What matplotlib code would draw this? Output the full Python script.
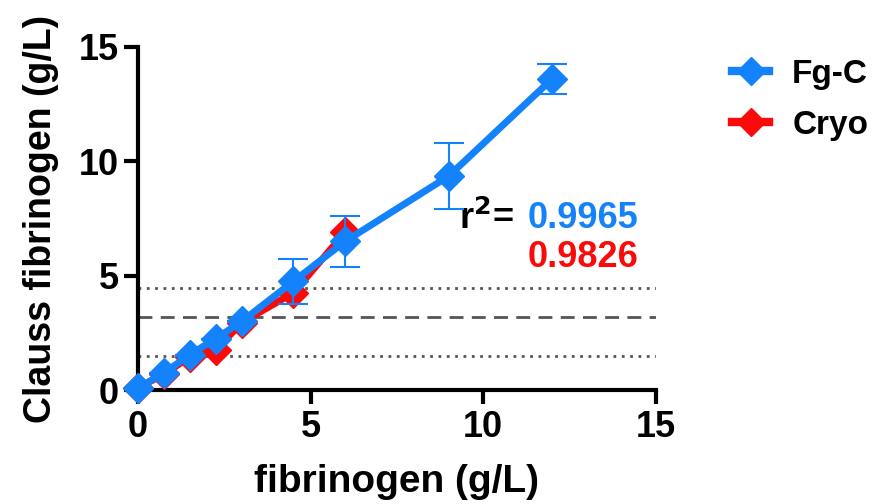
import matplotlib.pyplot as plt
from matplotlib.lines import Line2D

# data
x_vals = [0, 0.75, 1.5, 2.25, 3, 4.5, 6, 9, 12]
fgc = [0.1, 0.75, 1.55, 2.25, 3.0, 4.75, 6.5, 9.35, 13.6]
fgc_err = [0, 0, 0, 0, 0, 1.0, 1.1, 1.45, 0.65]
cryo_x = [0, 0.75, 1.5, 2.25, 3, 4.5, 6]
cryo = [0.1, 0.7, 1.45, 1.75, 2.95, 4.25, 6.9]
ref_lines = [1.5, 3.2, 4.45]
r2_fgc = "0.9965"
r2_cryo = "0.9826"

plt.rcParams['font.family'] = ['Liberation Sans', 'DejaVu Sans']
plt.rcParams['font.weight'] = 'bold'

blue = '#1482fa'
red = '#fa0a0a'

fig = plt.figure(figsize=(8.8, 5.04), dpi=100)
ax = fig.add_axes([0.157, 0.226, 0.588, 0.681])

# reference lines
ax.axhline(ref_lines[0], color='#555555', lw=2, ls=(0, (1, 2)), zorder=1)
ax.axhline(ref_lines[1], color='#555555', lw=2, ls=(0, (5, 3)), zorder=1)
ax.axhline(ref_lines[2], color='#555555', lw=2, ls=(0, (1, 2)), zorder=1)

ax.plot(cryo_x, cryo, color=red, lw=5, marker='D', ms=15, clip_on=False, zorder=3)
ax.errorbar(x_vals, fgc, yerr=fgc_err, color=blue, fmt='none',
            elinewidth=1.5, capsize=11, capthick=1.5, zorder=4)
ax.plot(x_vals, fgc, color=blue, lw=5, marker='D', ms=15, clip_on=False, zorder=5)

ax.set_xlim(0, 15)
ax.set_ylim(0, 15)
ax.set_xticks([0, 5, 10, 15])
ax.set_yticks([0, 5, 10, 15])
for s in ['top', 'right']:
    ax.spines[s].set_visible(False)
for s in ['left', 'bottom']:
    ax.spines[s].set_linewidth(3)
ax.tick_params(width=3, length=10, labelsize=26, direction='out', pad=4)
for lab in ax.get_xticklabels() + ax.get_yticklabels():
    lab.set_fontweight('bold')

ax.set_xlabel('fibrinogen (g/L)', fontsize=28, fontweight='bold', labelpad=14)
ax.set_ylabel('Clauss fibrinogen (g/L)', fontsize=27, fontweight='bold', labelpad=14)

ax.text(0.62, 0.50, r'r$^{\mathbf{2}}$=', transform=ax.transAxes, fontsize=26,
        fontweight='bold', ha='left', va='center')
ax.text(0.752, 0.50, r2_fgc, transform=ax.transAxes, fontsize=26,
        fontweight='bold', color=blue, ha='left', va='center')
ax.text(0.752, 0.385, r2_cryo, transform=ax.transAxes, fontsize=26,
        fontweight='bold', color=red, ha='left', va='center')

handles = [Line2D([], [], color=blue, lw=6, marker='D', ms=14),
           Line2D([], [], color=red, lw=6, marker='D', ms=14)]
leg = ax.legend(handles, ['Fg-C', 'Cryo'], loc='upper left',
                bbox_to_anchor=(1.09, 1.052), frameon=False, fontsize=24,
                handlelength=1.1, handletextpad=0.7, labelspacing=0.6)
for t in leg.get_texts():
    t.set_fontweight('bold')

fig.savefig('out.png', dpi=100)
